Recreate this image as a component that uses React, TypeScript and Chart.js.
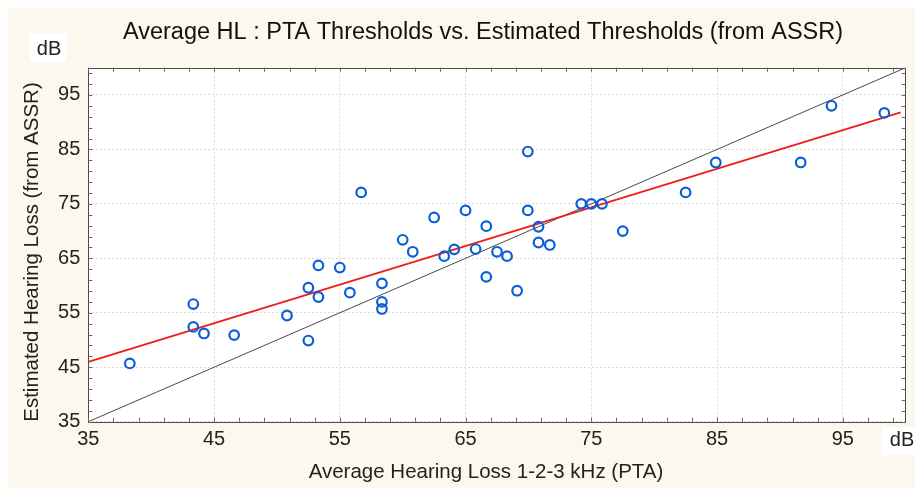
import React, { useEffect, useRef } from "react";
import { Chart, registerables } from "chart.js";

Chart.register(...registerables);

const titleText = "Average HL : PTA Thresholds vs. Estimated Thresholds (from ASSR)";
const xTitle = "Average Hearing Loss 1-2-3 kHz (PTA)";
const yTitle = "Estimated Hearing Loss (from ASSR)";
const unitLabel = "dB";

const xTicks = [35, 45, 55, 65, 75, 85, 95];
const yTicks = [35, 45, 55, 65, 75, 85, 95];
const axisMin = 35;
const axisMax = 100;

// PTA (x) and ASSR-estimated (y) thresholds
const ptaValues = [
  38.3, 43.35, 43.35, 44.2, 46.6, 50.8, 52.5, 52.5, 53.3, 53.3, 55.0, 55.8, 56.7,
  58.35, 58.35, 58.35, 60.0, 60.8, 62.5, 63.3, 64.1, 65.0, 65.8, 66.65, 66.65,
  67.5, 68.3, 69.1, 69.95, 69.95, 70.8, 70.8, 71.7, 74.2, 75.0, 75.85, 77.5,
  82.5, 84.9, 91.65, 94.1, 98.3,
];
const assrValues = [
  45.7, 56.6, 52.4, 51.2, 50.9, 54.5, 49.9, 59.6, 63.7, 57.9, 63.3, 58.7, 77.1,
  60.4, 57.0, 55.7, 68.4, 66.2, 72.5, 65.4, 66.65, 73.8, 66.7, 70.9, 61.6,
  66.2, 65.4, 59.05, 84.6, 73.8, 70.8, 67.9, 67.45, 75.0, 75.0, 75.0, 70.0,
  77.1, 82.6, 82.6, 93.0, 91.7,
];

// regression line endpoints
const regX = [35, 99.6];
const regY = [46.0, 91.8];
// identity line endpoints
const identX = [35, 100];
const identY = [35, 100];

const CREAM = "#fdf8ee";
const FONT = "'Liberation Sans', Arial, sans-serif";

const decorPlugin = {
  id: "decor",
  beforeDraw(chart: any) {
    const { ctx, chartArea: a, width, height } = chart;
    ctx.save();
    ctx.fillStyle = CREAM;
    ctx.fillRect(0, 0, width, height);
    ctx.fillStyle = "#ffffff";
    ctx.fillRect(a.left, a.top, a.right - a.left, a.bottom - a.top);
    ctx.restore();
  },
  afterDraw(chart: any) {
    const { ctx, chartArea: a } = chart;
    const xs = chart.scales.x;
    const ys = chart.scales.y;
    ctx.save();
    // frame
    ctx.strokeStyle = "#4a4a4a";
    ctx.lineWidth = 1;
    ctx.strokeRect(Math.round(a.left) + 0.5, Math.round(a.top) + 0.5, Math.round(a.right - a.left), Math.round(a.bottom - a.top));
    // minor ticks, inward, on all sides
    ctx.strokeStyle = "#666";
    ctx.beginPath();
    for (let v = axisMin; v < axisMax; v += 2) {
      const px = Math.round(xs.getPixelForValue(v)) + 0.5;
      ctx.moveTo(px, a.bottom);
      ctx.lineTo(px, a.bottom - 4);
      ctx.moveTo(px, a.top);
      ctx.lineTo(px, a.top + 4);
      const py = Math.round(ys.getPixelForValue(v)) + 0.5;
      ctx.moveTo(a.left, py);
      ctx.lineTo(a.left + 4, py);
      ctx.moveTo(a.right, py);
      ctx.lineTo(a.right - 4, py);
    }
    ctx.stroke();

    // title
    ctx.fillStyle = "#111";
    ctx.textAlign = "center";
    ctx.textBaseline = "middle";
    ctx.font = `23.5px ${FONT}`;
    ctx.fillText(titleText, 475, 25);

    // axis titles
    ctx.font = `20.5px ${FONT}`;
    ctx.fillStyle = "#222";
    ctx.fillText(xTitle, 478, 464);
    ctx.save();
    ctx.translate(24, 244);
    ctx.rotate(-Math.PI / 2);
    ctx.fillText(yTitle, 0, 0);
    ctx.restore();

    // dB unit boxes
    ctx.fillStyle = "#ffffff";
    ctx.fillRect(21, 25, 38, 29);
    ctx.fillRect(874, 419, 33, 28);
    ctx.fillStyle = "#222";
    ctx.font = `20px ${FONT}`;
    ctx.fillText(unitLabel, 41, 41);
    ctx.fillText(unitLabel, 894, 432);
    ctx.restore();
  },
};

export default function App() {
  const ref = useRef<HTMLCanvasElement | null>(null);

  useEffect(() => {
    if (!ref.current) return;
    const tickFont = { family: FONT, size: 20 };
    const chart = new Chart(ref.current, {
      type: "scatter",
      data: {
        datasets: [
          {
            label: "Subjects",
            data: ptaValues.map((x, i) => ({ x, y: assrValues[i] })),
            pointStyle: "circle",
            pointRadius: 4.8,
            pointBorderWidth: 2.2,
            pointBackgroundColor: "rgba(255,255,255,0)",
            pointBorderColor: "#0b5fd6",
            order: 0,
          } as any,
          {
            label: "Regression",
            type: "line",
            data: regX.map((x, i) => ({ x, y: regY[i] })),
            borderColor: "#ee1c1c",
            borderWidth: 1.8,
            pointRadius: 0,
            fill: false,
            order: 1,
          } as any,
          {
            label: "Identity",
            type: "line",
            data: identX.map((x, i) => ({ x, y: identY[i] })),
            borderColor: "#4a4a4a",
            borderWidth: 1,
            pointRadius: 0,
            fill: false,
            order: 2,
          } as any,
        ],
      },
      options: {
        responsive: false,
        animation: false,
        devicePixelRatio: 1,
        layout: { padding: { top: 59.7, right: 9.3, left: 0, bottom: 0 } },
        plugins: {
          legend: { display: false },
          title: { display: false },
          tooltip: { enabled: false },
        },
        scales: {
          x: {
            type: "linear",
            min: axisMin,
            max: axisMax,
            afterBuildTicks: (s: any) => {
              s.ticks = xTicks.map((v) => ({ value: v }));
            },
            afterFit: (s: any) => {
              s.height = 66.3;
            },
            ticks: { font: tickFont, color: "#222", padding: 6, maxRotation: 0, autoSkip: false },
            grid: { color: "#dadada", lineWidth: 1, drawTicks: false },
            border: { display: false, dash: [2, 2] },
          },
          y: {
            type: "linear",
            min: axisMin,
            max: axisMax,
            afterBuildTicks: (s: any) => {
              s.ticks = yTicks.map((v) => ({ value: v }));
            },
            afterFit: (s: any) => {
              s.width = 80.3;
            },
            ticks: { font: tickFont, color: "#222", padding: 8, autoSkip: false },
            grid: { color: "#dadada", lineWidth: 1, drawTicks: false },
            border: { display: false, dash: [2, 2] },
          },
        },
      } as any,
      plugins: [decorPlugin],
    });
    return () => chart.destroy();
  }, []);

  return (
    <canvas
      ref={ref}
      width={907}
      height={480}
      style={{ display: "block", position: "fixed", left: 8, top: 8, width: 907, height: 480 }}
    />
  );
}
